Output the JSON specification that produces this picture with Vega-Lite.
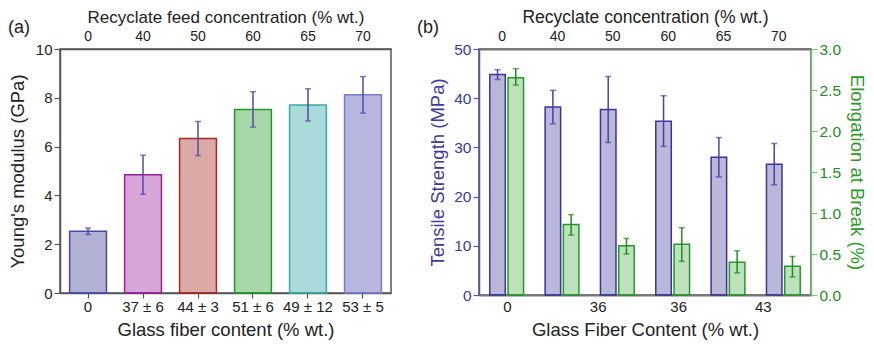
{
  "$schema": "https://vega.github.io/schema/vega-lite/v6.json",
  "padding": {"left": 7, "top": 7, "right": 4, "bottom": 0},
  "spacing": 24,
  "config": {
    "font": "Liberation Sans",
    "view": {"stroke": "#555", "strokeWidth": 1.5},
    "axis": {
      "labelFontSize": 15, "titleFontSize": 18.5, "titleFontWeight": "normal",
      "labelColor": "#222", "titleColor": "#222", "domainColor": "#555", "tickColor": "#555",
      "domainWidth": 1.5, "tickWidth": 1.2, "grid": false, "labelFont": "Liberation Sans", "titleFont": "Liberation Sans"
    },
    "title": {"font": "Liberation Sans", "fontWeight": "normal", "fontSize": 18, "color": "#222"}
  },
  "datasets": {
    "left": [
      {"fiber": "0", "feed": "0", "val": 2.53, "lo": 2.4, "hi": 2.66},
      {"fiber": "37 ± 6", "feed": "40", "val": 4.85, "lo": 4.05, "hi": 5.65},
      {"fiber": "44 ± 3", "feed": "50", "val": 6.33, "lo": 5.63, "hi": 7.03},
      {"fiber": "51 ± 6", "feed": "60", "val": 7.52, "lo": 6.8, "hi": 8.25},
      {"fiber": "49 ± 12", "feed": "65", "val": 7.7, "lo": 7.05, "hi": 8.37},
      {"fiber": "53 ± 5", "feed": "70", "val": 8.12, "lo": 7.37, "hi": 8.87}
    ],
    "right": [
      {"conc": "0", "prop": "TS", "val": 44.8, "lo": 43.8, "hi": 45.8},
      {"conc": "40", "prop": "TS", "val": 38.2, "lo": 34.8, "hi": 41.6},
      {"conc": "50", "prop": "TS", "val": 37.7, "lo": 31.0, "hi": 44.4},
      {"conc": "60", "prop": "TS", "val": 35.3, "lo": 30.2, "hi": 40.5},
      {"conc": "65", "prop": "TS", "val": 28.0, "lo": 24.0, "hi": 32.0},
      {"conc": "70", "prop": "TS", "val": 26.6, "lo": 22.4, "hi": 30.8},
      {"conc": "0", "prop": "EB", "val": 2.65, "lo": 2.56, "hi": 2.76},
      {"conc": "40", "prop": "EB", "val": 0.86, "lo": 0.73, "hi": 0.98},
      {"conc": "50", "prop": "EB", "val": 0.6, "lo": 0.5, "hi": 0.69},
      {"conc": "60", "prop": "EB", "val": 0.62, "lo": 0.41, "hi": 0.82},
      {"conc": "65", "prop": "EB", "val": 0.4, "lo": 0.27, "hi": 0.54},
      {"conc": "70", "prop": "EB", "val": 0.35, "lo": 0.22, "hi": 0.47}
    ]
  },
  "hconcat": [
    {
      "width": 331,
      "height": 244,
      "title": {"text": "(a)", "anchor": "start", "frame": "group", "dx": -52, "offset": -29},
      "data": {"name": "left"},
      "layer": [
        {
          "layer": [
            {
              "mark": {"type": "bar", "strokeWidth": 1.5, "fillOpacity": 0.4},
              "encoding": {
                "x": {"field": "fiber", "type": "nominal", "sort": null,
                  "scale": {"paddingInner": 0.33, "paddingOuter": 0.175},
                  "axis": {"orient": "bottom", "title": "Glass fiber content (% wt.)", "labelAngle": 0, "tickSize": 5, "labelPadding": 1, "titlePadding": 6}},
                "y": {"field": "val", "type": "quantitative", "scale": {"domain": [0, 10], "nice": false},
                  "axis": {"title": "Young's modulus (GPa)", "values": [0, 1, 2, 3, 4, 5, 6, 7, 8, 9, 10],
                    "labelExpr": "datum.value % 2 == 0 ? datum.label : ''",
                    "tickSize": {"condition": {"test": "datum.value % 2 != 0", "value": 3}, "value": 6},
                    "titlePadding": 8}},
                "fill": {"field": "fiber", "type": "nominal", "sort": null, "legend": null,
                  "scale": {"range": ["#3B3997", "#9B1E9B", "#A52A22", "#1E9A28", "#2AA3A3", "#4848B0"]}},
                "stroke": {"field": "fiber", "type": "nominal", "sort": null, "legend": null,
                  "scale": {"range": ["#4A48A8", "#9B1E9B", "#A52A22", "#1E9A28", "#3AAAAA", "#7C7CCC"]}}
              }
            },
            {
              "mark": {"type": "rule", "color": "#5548A8", "strokeWidth": 1.5},
              "encoding": {
                "x": {"field": "fiber", "type": "nominal", "sort": null},
                "y": {"field": "lo", "type": "quantitative"},
                "y2": {"field": "hi"}
              }
            },
            {
              "mark": {"type": "tick", "color": "#5548A8", "thickness": 1.5, "size": 6},
              "encoding": {
                "x": {"field": "fiber", "type": "nominal", "sort": null},
                "y": {"field": "hi", "type": "quantitative"}
              }
            },
            {
              "mark": {"type": "tick", "color": "#5548A8", "thickness": 1.5, "size": 6},
              "encoding": {
                "x": {"field": "fiber", "type": "nominal", "sort": null},
                "y": {"field": "lo", "type": "quantitative"}
              }
            }
          ]
        },
        {
          "mark": {"type": "bar", "opacity": 0},
          "encoding": {
            "x": {"field": "feed", "type": "nominal", "sort": null,
              "scale": {"paddingInner": 0.33, "paddingOuter": 0.175},
              "axis": {"orient": "top", "title": "Recyclate feed concentration (% wt.)", "labelAngle": 0, "ticks": false, "labelPadding": 6, "titlePadding": 3, "labelFontSize": 14, "titleFontSize": 17}},
            "y": {"field": "val", "type": "quantitative"}
          }
        }
      ],
      "resolve": {"scale": {"x": "independent"}}
    },
    {
      "width": 332,
      "height": 246,
      "title": {"text": "(b)", "anchor": "start", "frame": "group", "dx": -62, "offset": -29},
      "data": {"name": "right"},
      "layer": [
        {
          "transform": [{"filter": "datum.prop == 'TS'"}],
          "layer": [
            {
              "mark": {"type": "bar", "strokeWidth": 1.5, "fillOpacity": 0.35, "color": "#3A3496", "stroke": "#3A3496"},
              "encoding": {
                "x": {"field": "conc", "type": "nominal", "sort": null,
                  "scale": {"domain": ["0", "40", "50", "60", "65", "70"], "paddingInner": 0.39, "paddingOuter": 0.195},
                  "axis": {"orient": "top", "title": "Recyclate concentration (% wt.)", "labelAngle": 0, "ticks": false, "labelPadding": 6, "titlePadding": 3, "labelOffset": -4.5, "labelFontSize": 14, "titleFontSize": 17.5, "domainColor": "#777", "domainWidth": 2}},
                "xOffset": {"field": "prop", "type": "nominal", "scale": {"domain": ["TS", "EB"], "paddingInner": 0.15, "paddingOuter": 0}},
                "y": {"field": "val", "type": "quantitative", "scale": {"domain": [0, 50], "nice": false},
                  "axis": {"orient": "left", "title": "Tensile Strength (MPa)", "values": [0, 5, 10, 15, 20, 25, 30, 35, 40, 45, 50],
                    "labelExpr": "datum.value % 10 == 0 ? datum.label : ''",
                    "tickSize": {"condition": {"test": "datum.value % 10 != 0", "value": 3}, "value": 6},
                    "labelColor": "#3E3A9A", "titleColor": "#3E3A9A", "domainColor": "#5A52A8", "tickColor": "#5A52A8",
                    "labelFontSize": 15.5, "titleFontSize": 18.5, "titlePadding": 6}}
              }
            },
            {
              "mark": {"type": "rule", "color": "#4A42A0", "strokeWidth": 1.5},
              "encoding": {
                "x": {"field": "conc", "type": "nominal", "sort": null},
                "xOffset": {"field": "prop", "type": "nominal"},
                "y": {"field": "lo", "type": "quantitative"},
                "y2": {"field": "hi"}
              }
            },
            {
              "mark": {"type": "tick", "color": "#4A42A0", "thickness": 1.5, "size": 6},
              "encoding": {
                "x": {"field": "conc", "type": "nominal", "sort": null},
                "xOffset": {"field": "prop", "type": "nominal"},
                "y": {"field": "hi", "type": "quantitative"}
              }
            },
            {
              "mark": {"type": "tick", "color": "#4A42A0", "thickness": 1.5, "size": 6},
              "encoding": {
                "x": {"field": "conc", "type": "nominal", "sort": null},
                "xOffset": {"field": "prop", "type": "nominal"},
                "y": {"field": "lo", "type": "quantitative"}
              }
            }
          ]
        },
        {
          "transform": [{"filter": "datum.prop == 'EB'"}],
          "layer": [
            {
              "mark": {"type": "bar", "strokeWidth": 1.5, "fillOpacity": 0.3, "color": "#249A24", "stroke": "#249A24"},
              "encoding": {
                "x": {"field": "conc", "type": "nominal", "sort": null,
                  "scale": {"domain": ["0", "40", "50", "60", "65", "70"], "paddingInner": 0.39, "paddingOuter": 0.195},
                  "axis": null},
                "xOffset": {"field": "prop", "type": "nominal", "scale": {"domain": ["TS", "EB"], "paddingInner": 0.15, "paddingOuter": 0}},
                "y": {"field": "val", "type": "quantitative", "scale": {"domain": [0, 3], "nice": false},
                  "axis": {"orient": "right", "title": "Elongation at Break (%)", "values": [0, 0.25, 0.5, 0.75, 1, 1.25, 1.5, 1.75, 2, 2.25, 2.5, 2.75, 3],
                    "labelExpr": "datum.value % 0.5 == 0 ? format(datum.value, '.1f') : ''",
                    "tickSize": {"condition": {"test": "datum.value % 0.5 != 0", "value": 3}, "value": 6},
                    "labelColor": "#1E8C1E", "titleColor": "#2A9A2A", "domainColor": "#7CC47C", "tickColor": "#7CC47C",
                    "labelFontSize": 15.5, "titleFontSize": 18.5, "titlePadding": 6}}
              }
            },
            {
              "mark": {"type": "rule", "color": "#1E8C1E", "strokeWidth": 1.5},
              "encoding": {
                "x": {"field": "conc", "type": "nominal", "sort": null},
                "xOffset": {"field": "prop", "type": "nominal"},
                "y": {"field": "lo", "type": "quantitative"},
                "y2": {"field": "hi"}
              }
            },
            {
              "mark": {"type": "tick", "color": "#1E8C1E", "thickness": 1.5, "size": 6},
              "encoding": {
                "x": {"field": "conc", "type": "nominal", "sort": null},
                "xOffset": {"field": "prop", "type": "nominal"},
                "y": {"field": "hi", "type": "quantitative"}
              }
            },
            {
              "mark": {"type": "tick", "color": "#1E8C1E", "thickness": 1.5, "size": 6},
              "encoding": {
                "x": {"field": "conc", "type": "nominal", "sort": null},
                "xOffset": {"field": "prop", "type": "nominal"},
                "y": {"field": "lo", "type": "quantitative"}
              }
            }
          ]
        },
        {
          "mark": {"type": "point", "opacity": 0},
          "encoding": {
            "x": {"datum": 0, "type": "quantitative", "scale": {"domain": [0, 6], "nice": false},
              "axis": {"orient": "bottom", "title": "Glass Fiber Content (% wt.)", "values": [0.506, 2.145, 3.6, 5.13],
                "labelExpr": "datum.value < 1 ? '0' : datum.value < 3 ? '36' : datum.value < 4.5 ? '36' : '43'",
                "ticks": false, "labelPadding": 4, "titlePadding": 6, "domainColor": "#777", "domainWidth": 2}}
          }
        }
      ],
      "resolve": {"scale": {"x": "independent", "y": "independent"}}
    }
  ]
}
